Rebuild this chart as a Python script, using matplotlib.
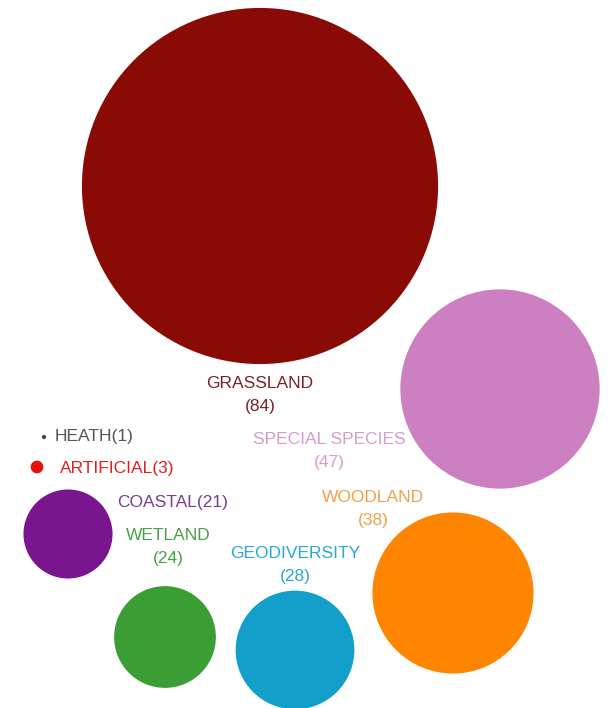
import matplotlib
matplotlib.use("Agg")
import matplotlib.pyplot as plt
from matplotlib.patches import Circle

names = ["GRASSLAND", "SPECIAL SPECIES", "WOODLAND", "GEODIVERSITY",
         "WETLAND", "COASTAL", "ARTIFICIAL", "HEATH"]
values = [84, 47, 38, 28, 24, 21, 3, 1]
colors = ["#8a0a06", "#cc80c2", "#ff8500", "#12a0cb",
          "#3a9e35", "#7a1590", "#e3120f", "#444444"]
label_colors = ["#7a2323", "#d49bd0", "#f0a04a", "#2aa6d2",
                "#4c9f48", "#7a3b92", "#e02020", "#555555"]

# layout (pixel space)
cx = [260, 500, 453, 295, 165, 68, 37, 44]
cy = [186, 389, 593, 650, 637, 534, 467, 437]
scale = 2.12  # radius px per unit

# label layout
lab_x = [260, 329, 373, 295, 168, 117, 60, 55]
lab_y = [383, 440, 497, 553, 535, 502, 468, 437]
lab_ha = ["center", "center", "center", "center", "center", "left", "left", "left"]
two_line = [True, True, True, True, True, False, False, False]

fig = plt.figure(figsize=(6.11, 7.08), dpi=100)
ax = fig.add_axes([0, 0, 1, 1])
ax.set_xlim(0, 611)
ax.set_ylim(708, 0)
ax.set_aspect("equal")
ax.axis("off")

fs = 12.5
for i, v in enumerate(values):
    ax.add_patch(Circle((cx[i], cy[i]), v * scale, color=colors[i], lw=0))
    if two_line[i]:
        ax.text(lab_x[i], lab_y[i], names[i], ha=lab_ha[i], va="center",
                color=label_colors[i], fontsize=fs, family="Liberation Sans")
        ax.text(lab_x[i], lab_y[i] + 23, "(%d)" % v, ha=lab_ha[i], va="center",
                color=label_colors[i], fontsize=fs, family="Liberation Sans")
    else:
        ax.text(lab_x[i], lab_y[i], "%s(%d)" % (names[i], v), ha=lab_ha[i],
                va="center", color=label_colors[i], fontsize=fs,
                family="Liberation Sans")

fig.savefig("out.png", dpi=100)
